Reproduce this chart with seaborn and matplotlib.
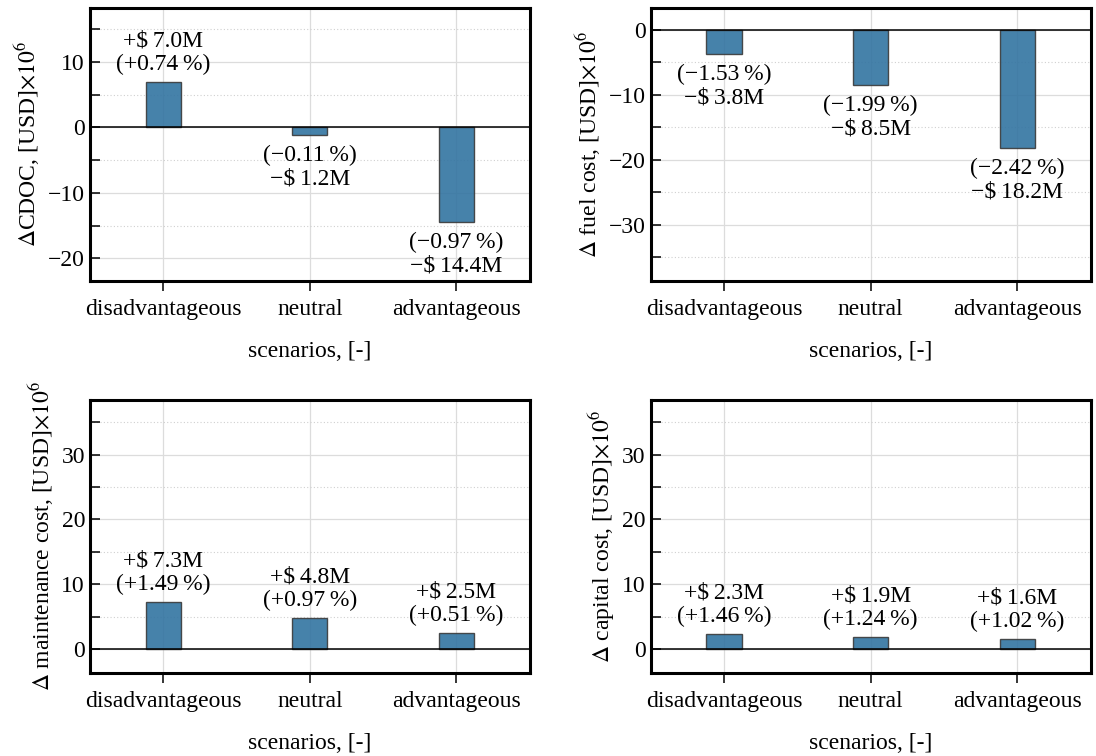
import matplotlib
matplotlib.use("Agg")
import pandas as pd
import matplotlib.pyplot as plt
import seaborn as sns
from matplotlib.ticker import MultipleLocator

# scenario deltas (million USD) and relative change (%)
scenarios = ["disadvantageous", "neutral", "advantageous"]

cdoc_delta = [7.0, -1.2, -14.4]
cdoc_pct = [0.74, -0.11, -0.97]

fuel_delta = [-3.8, -8.5, -18.2]
fuel_pct = [-1.53, -1.99, -2.42]

maint_delta = [7.3, 4.8, 2.5]
maint_pct = [1.49, 0.97, 0.51]

capital_delta = [2.3, 1.9, 1.6]
capital_pct = [1.46, 1.24, 1.02]

ylabels = [r"$\Delta$CDOC, [USD]$\times10^6$",
           r"$\Delta$ fuel cost, [USD]$\times10^6$",
           r"$\Delta$ maintenance cost, [USD]$\times10^6$",
           r"$\Delta$ capital cost, [USD]$\times10^6$"]
ylims = [(-23.4, 18.3), (-38.6, 3.4), (-3.7, 38.5), (-3.7, 38.5)]

sns.set_style("ticks")
plt.rcParams["font.family"] = ["Liberation Serif", "DejaVu Serif"]
plt.rcParams["mathtext.fontset"] = "stix"
plt.rcParams["font.size"] = 17
for key in ["text.color", "axes.labelcolor", "xtick.color", "ytick.color"]:
    plt.rcParams[key] = "black"

FS = 17


def fmt(v, p):
    sign = "+" if v >= 0 else "\u2212"
    money = f"{sign}\\$\u2009{abs(v):.1f}M"
    pct = f"({sign}{abs(p):.2f}\u2009%)"
    return money, pct


fig, axes = plt.subplots(2, 2, figsize=(10.96, 7.56), dpi=100)
plt.subplots_adjust(left=0.082, right=0.995, top=0.99, bottom=0.11,
                     wspace=0.275, hspace=0.435)

panels = [(cdoc_delta, cdoc_pct), (fuel_delta, fuel_pct),
          (maint_delta, maint_pct), (capital_delta, capital_pct)]

for ax, (vals, pcts), ylab, ylim in zip(axes.flat, panels, ylabels, ylims):
    df = pd.DataFrame({"scenario": scenarios, "delta": vals})
    sns.barplot(data=df, x="scenario", y="delta", ax=ax, color="C0",
                width=0.24, alpha=0.9, edgecolor="#3a3a3a", linewidth=1.0,
                zorder=3)
    ax.axhline(0, color="black", lw=1.1, zorder=4)
    ax.set_ylim(*ylim)
    ax.set_xlim(-0.5, 2.5)
    ax.yaxis.set_major_locator(MultipleLocator(10))
    ax.yaxis.set_minor_locator(MultipleLocator(5))
    ax.grid(True, which="major", color="#dcdcdc", lw=0.9, zorder=0)
    ax.grid(True, which="minor", axis="y", color="#d0d0d0", lw=0.8,
            ls=(0, (1, 2)), zorder=0)
    ax.set_axisbelow(True)
    ax.tick_params(axis="y", which="both", direction="in", length=7, width=1.1,
                   labelsize=FS)
    ax.tick_params(axis="x", direction="out", length=7, width=1.1, pad=6,
                   labelsize=FS)
    for s in ax.spines.values():
        s.set_linewidth(2.2)
        s.set_color("black")
    ax.set_ylabel(ylab, fontsize=FS, labelpad=4)
    ax.set_xlabel("scenarios, [-]", fontsize=FS, labelpad=15)

    for i, (v, p) in enumerate(zip(vals, pcts)):
        money, pct = fmt(v, p)
        if v >= 0:
            ax.annotate(money + "\n" + pct, (i, v), xytext=(0, 5),
                        textcoords="offset points", ha="center", va="bottom",
                        fontsize=FS, linespacing=1.15)
        else:
            ax.annotate(pct + "\n" + money, (i, v), xytext=(0, -7),
                        textcoords="offset points", ha="center", va="top",
                        fontsize=FS, linespacing=1.15)

fig.savefig("out.png", dpi=100)
